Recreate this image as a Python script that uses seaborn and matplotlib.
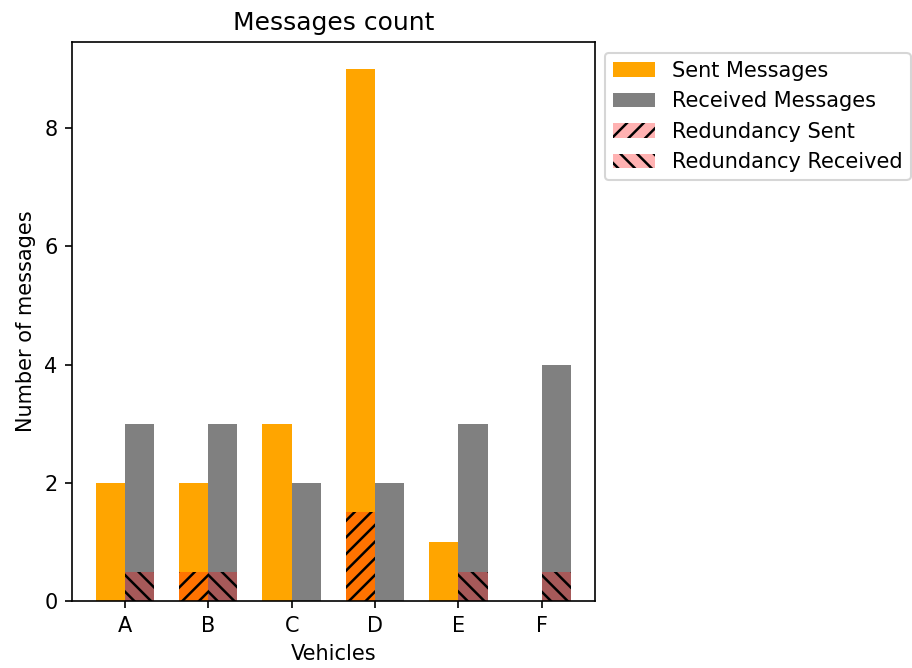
import pandas as pd
import matplotlib.pyplot as plt
import seaborn as sns
from matplotlib.patches import Patch

# Data
vehicles = ["A", "B", "C", "D", "E", "F"]
sent = [2, 2, 3, 9, 1, 0]
received = [3, 3, 2, 2, 3, 4]
redundancy_sent = [0, 0.5, 0, 1.5, 0, 0]
redundancy_received = [0.5, 0.5, 0, 0, 0.5, 0.5]

plt.rcParams["hatch.color"] = "black"
plt.rcParams["hatch.linewidth"] = 1.2

df = pd.DataFrame({
    "vehicle": vehicles * 2,
    "kind": ["Sent Messages"] * 6 + ["Received Messages"] * 6,
    "count": sent + received,
})
df_red = pd.DataFrame({
    "vehicle": vehicles * 2,
    "kind": ["Redundancy Sent"] * 6 + ["Redundancy Received"] * 6,
    "count": redundancy_sent + redundancy_received,
})

fig, ax = plt.subplots(figsize=(912 / 150, 668 / 150), dpi=150)

# main bars
sns.barplot(
    data=df, x="vehicle", y="count", hue="kind",
    palette={"Sent Messages": "orange", "Received Messages": "gray"},
    width=0.7, saturation=1, linewidth=0, legend=False, ax=ax,
)
n_main = len(ax.patches)

# redundancy overlay
sns.barplot(
    data=df_red, x="vehicle", y="count", hue="kind",
    palette={"Redundancy Sent": "red", "Redundancy Received": "red"},
    width=0.7, saturation=1, linewidth=0, alpha=0.3, legend=False, ax=ax,
)
red_patches = ax.patches[n_main:]
for i, p in enumerate(red_patches):
    p.set_hatch("///" if i < len(vehicles) else "\\\\\\")

# legend
handles = [
    Patch(facecolor="orange", label="Sent Messages"),
    Patch(facecolor="gray", label="Received Messages"),
    Patch(facecolor="red", alpha=0.3, hatch="///", label="Redundancy Sent"),
    Patch(facecolor="red", alpha=0.3, hatch="\\\\\\", label="Redundancy Received"),
]
ax.legend(handles=handles, loc="upper left", bbox_to_anchor=(1.0, 1))

ax.set_title("Messages count")
ax.set_xlabel("Vehicles")
ax.set_ylabel("Number of messages")
ax.set_yticks([0, 2, 4, 6, 8])
ax.set_xlim(-0.635, 5.635)

plt.subplots_adjust(left=0.079, right=0.652, bottom=0.10, top=0.937)
plt.savefig("out.png")
